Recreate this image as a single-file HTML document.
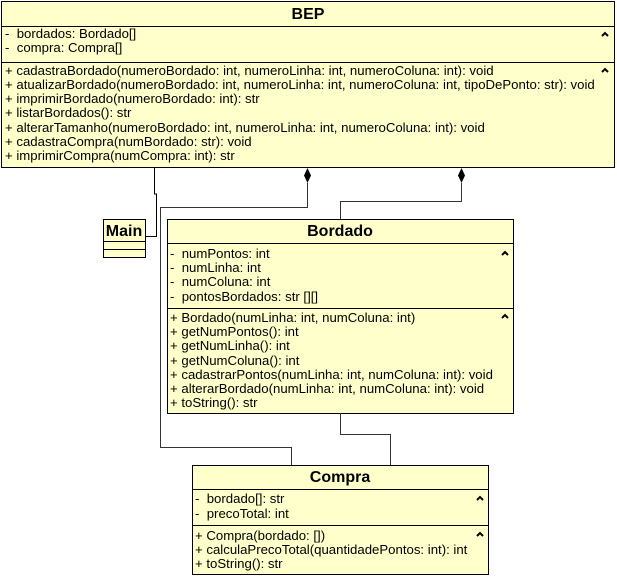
<!DOCTYPE html>
<html><head><style>body{margin:0;background:#fff}text{white-space:pre}</style></head><body>
<svg width="617" height="577" xmlns="http://www.w3.org/2000/svg" font-family="Liberation Sans, sans-serif" font-size="13.2" xml:space="preserve">
<g fill="#ffffcc" stroke="#000" stroke-width="1">
<rect x="1.5" y="1.5" width="613" height="166"/>
<rect x="103.5" y="219.5" width="42" height="38"/>
<rect x="167.5" y="219.5" width="346" height="194"/>
<rect x="192.5" y="465.5" width="296" height="109"/>
</g>
<g stroke="#000">
<line x1="1" y1="26.5" x2="615" y2="26.5"/><line x1="1" y1="62.5" x2="615" y2="62.5"/>
<line x1="103" y1="241.5" x2="146" y2="241.5"/><line x1="103" y1="249.5" x2="146" y2="249.5"/>
<line x1="167" y1="243.5" x2="514" y2="243.5"/><line x1="167" y1="308.5" x2="514" y2="308.5"/>
<line x1="192" y1="489.5" x2="489" y2="489.5"/><line x1="192" y1="525.5" x2="489" y2="525.5"/>
</g>
<g fill="none" stroke="#333" stroke-width="1">
<polyline points="154.5,168 154.5,194 156.5,194 156.5,236.5 146,236.5" stroke="#000"/>
<polyline points="307.5,183 307.5,207.5 160.5,207.5 160.5,447.5 291.5,447.5 291.5,465"/>
<polyline points="461.5,183 461.5,201.5 340.5,201.5 340.5,219"/>
<polyline points="340.5,413 340.5,434.5 390.5,434.5 390.5,465"/>
</g>
<polygon points="307.5,168 311,175.5 307.5,183 304,175.5" fill="#000"/>
<polygon points="461.5,168 465,175.5 461.5,183 458,175.5" fill="#000"/>
<g font-weight="bold" font-size="16" text-anchor="middle">
<text x="308" y="19">BEP</text>
<text x="124" y="236">Main</text>
<text x="340" y="236">Bordado</text>
<text x="340" y="482">Compra</text>
</g>
<g>
<text x="5" y="38">-  bordados: Bordado[]</text>
<text x="5" y="52">-  compra: Compra[]</text>
<text x="5" y="75">+ cadastraBordado(numeroBordado: int, numeroLinha: int, numeroColuna: int): void</text>
<text x="5" y="89">+ atualizarBordado(numeroBordado: int, numeroLinha: int, numeroColuna: int, tipoDePonto: str): void</text>
<text x="5" y="103">+ imprimirBordado(numeroBordado: int): str</text>
<text x="5" y="117">+ listarBordados(): str</text>
<text x="5" y="132">+ alterarTamanho(numeroBordado: int, numeroLinha: int, numeroColuna: int): void</text>
<text x="5" y="146">+ cadastraCompra(numBordado: str): void</text>
<text x="5" y="160">+ imprimirCompra(numCompra: int): str</text>
<text x="170" y="258">-  numPontos: int</text>
<text x="170" y="272">-  numLinha: int</text>
<text x="170" y="286">-  numColuna: int</text>
<text x="170" y="301">-  pontosBordados: str [][]</text>
<text x="170" y="322">+ Bordado(numLinha: int, numColuna: int)</text>
<text x="170" y="336">+ getNumPontos(): int</text>
<text x="170" y="350">+ getNumLinha(): int</text>
<text x="170" y="365">+ getNumColuna(): int</text>
<text x="170" y="379">+ cadastrarPontos(numLinha: int, numColuna: int): void</text>
<text x="170" y="393">+ alterarBordado(numLinha: int, numColuna: int): void</text>
<text x="170" y="407">+ toString(): str</text>
<text x="195" y="503">-  bordado[]: str</text>
<text x="195" y="518">-  precoTotal: int</text>
<text x="195" y="540">+ Compra(bordado: [])</text>
<text x="195" y="554">+ calculaPrecoTotal(quantidadePontos: int): int</text>
<text x="195" y="568">+ toString(): str</text>
</g>
<g fill="none" stroke="#000" stroke-width="2">
<polyline points="602,36 605,33 608,36"/><polyline points="602,72 605,69 608,72"/>
<polyline points="502,255 505,252 508,255"/><polyline points="502,318 505,315 508,318"/>
<polyline points="477,500 480,497 483,500"/><polyline points="477,536 480,533 483,536"/>
</g>
</svg>
</body></html>
